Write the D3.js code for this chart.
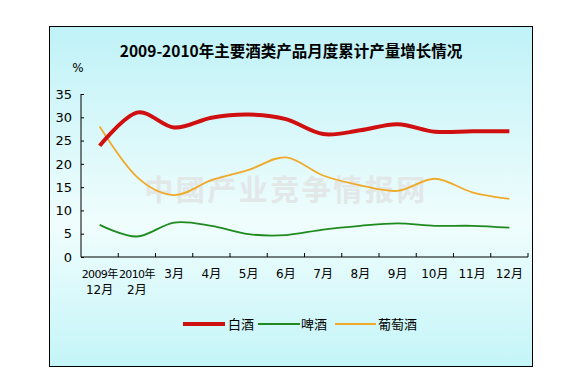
<!DOCTYPE html>
<html><head><meta charset="utf-8">
<script src="https://cdn.jsdelivr.net/npm/d3@7"></script>
<style>html,body{margin:0;padding:0;background:#fff;}svg{display:block;}</style>
</head><body>
<svg id="c" width="573" height="380"></svg>
<script>
const categories = ["2009年\n12月","2010年\n2月","3月","4月","5月","6月","7月","8月","9月","10月","11月","12月"];
const baijiu = [23.9, 31.0, 27.8, 29.9, 30.6, 29.6, 26.4, 27.2, 28.5, 26.9, 27.0, 27.0];
const pijiu  = [6.9, 4.4, 7.4, 6.7, 4.9, 4.7, 5.9, 6.7, 7.2, 6.7, 6.7, 6.3];
const putaojiu = [28.0, 17.2, 13.3, 16.5, 18.7, 21.4, 17.5, 15.4, 14.2, 16.8, 13.9, 12.5];
const yTicks = [0,5,10,15,20,25,30,35];
const seriesNames = ["白酒","啤酒","葡萄酒"];
const title = "2009-2010年主要酒类产品月度累计产量增长情况";
const watermark = "中國产业竞争情报网";

const svg = d3.select("#c");
const defs = svg.append("defs");
const grad = defs.append("linearGradient").attr("id","bg").attr("x1",0).attr("y1",0).attr("x2",0).attr("y2",1);
grad.append("stop").attr("offset","0%").attr("stop-color","#bff2f7");
grad.append("stop").attr("offset","58%").attr("stop-color","#f0fdfd");
grad.append("stop").attr("offset","100%").attr("stop-color","#c4f5f8");

svg.append("rect").attr("x",49.5).attr("y",26.5).attr("width",483).attr("height",340)
  .attr("fill","url(#bg)").attr("stroke","#000").attr("stroke-width",1);

const x = d3.scaleBand().domain(categories).range([81, 528]);
const y = d3.scaleLinear().domain([0,35]).range([257, 94]);

// watermark
svg.append("text").attr("x",286).attr("y",201).attr("text-anchor","middle")
  .attr("font-family","'Noto Sans CJK SC'").attr("font-weight","bold").attr("font-size",29)
  .attr("letter-spacing",2.5).attr("fill","#e2e6e6").attr("opacity",0.9).text(watermark);

// title
svg.append("text").attr("x",291).attr("y",57).attr("text-anchor","middle")
  .attr("font-family","'Noto Sans CJK SC', sans-serif").attr("font-weight","bold").attr("font-size",15.5)
  .attr("fill","#000").text(title);

svg.append("text").attr("x",78).attr("y",72).attr("text-anchor","middle")
  .attr("font-family","'DejaVu Sans'").attr("font-size",12).text("%");

// y axis
const yAxis = d3.axisLeft(y).tickValues(yTicks).tickSize(-3).tickPadding(9);
const gy = svg.append("g").attr("transform","translate(81,0)").call(yAxis);
gy.selectAll("text").attr("font-family","'DejaVu Sans'").attr("font-size",13).attr("fill","#000");
gy.selectAll("line,path").attr("stroke","#000");
gy.select(".domain").attr("d","M0,257V94");

// x axis (ticks at band boundaries)
const gx = svg.append("g").attr("transform","translate(0,257)");
gx.append("line").attr("x1",81).attr("x2",528).attr("stroke","#000");
const bounds = categories.map((c)=> x(c)+x.bandwidth());
gx.selectAll("line.t").data(bounds).join("line").attr("class","t")
  .attr("x1",d=>d).attr("x2",d=>d).attr("y1",0).attr("y2",-4).attr("stroke","#000");
const xl = gx.selectAll("text.l").data(categories).join("text").attr("class","l")
  .attr("x",d=>x(d)+x.bandwidth()/2).attr("y",21).attr("text-anchor","middle")
  .attr("font-family","'DejaVu Sans', 'Noto Sans CJK SC'").attr("font-size",12).attr("fill","#000");
xl.each(function(d){
  const parts = d.split("\n");
  const t = d3.select(this);
  parts.forEach((p,i)=>{
    const ts = t.append("tspan").attr("x",x(d)+x.bandwidth()/2).attr("dy", i===0?0:16).text(p);
    if (p.length > 4) ts.attr("font-size",11).attr("letter-spacing",-0.6);
  });
});

// lines
const line = d3.line().x((d,i)=>x(categories[i])+x.bandwidth()/2).y(d=>y(d)).curve(d3.curveCatmullRom.alpha(0));
svg.append("path").datum(putaojiu).attr("d",line).attr("fill","none").attr("stroke","#f0aa2a").attr("stroke-width",1.8);
svg.append("path").datum(pijiu).attr("d",line).attr("fill","none").attr("stroke","#1f8a1f").attr("stroke-width",1.8);
svg.append("path").datum(baijiu).attr("d",line).attr("fill","none").attr("stroke","#d01010").attr("stroke-width",4);

// legend
const legend = [
  {name:seriesNames[0], color:"#d01010", w:4, x1:183, x2:225, tx:228},
  {name:seriesNames[1], color:"#1f8a1f", w:1.8, x1:258, x2:300, tx:301},
  {name:seriesNames[2], color:"#f0aa2a", w:1.8, x1:335, x2:376, tx:378}
];
const lg = svg.append("g");
legend.forEach(l=>{
  lg.append("line").attr("x1",l.x1).attr("x2",l.x2).attr("y1",324).attr("y2",324)
    .attr("stroke",l.color).attr("stroke-width",l.w);
  lg.append("text").attr("x",l.tx).attr("y",329).attr("font-family","'Noto Sans CJK SC'")
    .attr("font-size",13).attr("fill","#000").text(l.name);
});
</script>
</body></html>
